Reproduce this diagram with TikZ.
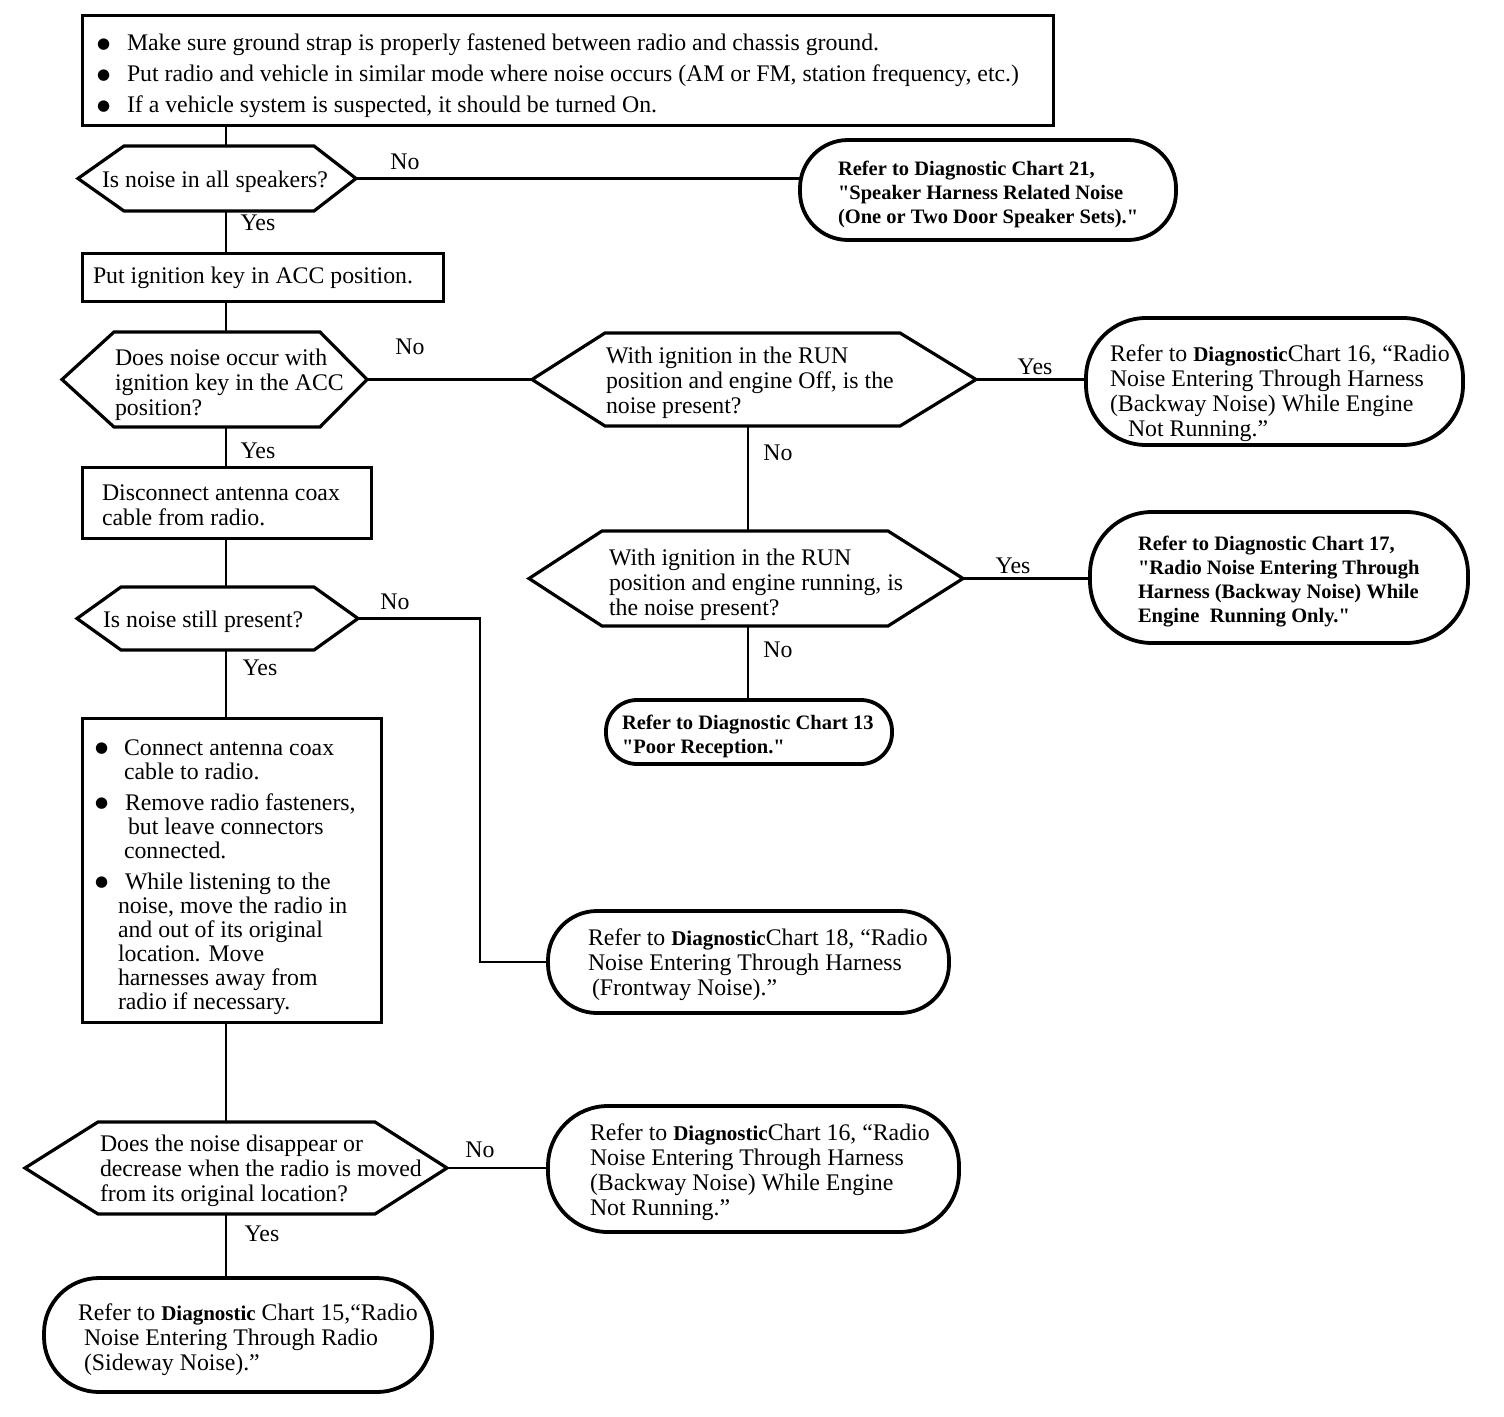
\documentclass[tikz,border=0pt]{standalone}
\usepackage{fontspec}
\setmainfont{Liberation Serif}
\newfontfamily\djv{DejaVu Sans}
\usetikzlibrary{calc}
\font\sqfont="Liberation Serif/B" at 20.5pt
\newcommand{\sq}{{\sqfont "}}
\newcommand{\ntext}[3][0]{\makebox[#2pt][l]{\raisebox{\dimexpr-9.75pt-#1pt\relax}[0pt][0pt]{\begin{tabular}[c]{@{}l@{}}#3\end{tabular}}}}
\newcommand{\bulx}[1]{\makebox[#1pt][l]{\hspace{-1pt}\raisebox{2.5pt}{\djv\fontsize{15}{15}\selectfont ●}}}
\newcommand{\dgx}{{\bfseries\fontsize{21}{25}\selectfont Diagnostic}}
\newcommand{\hexa}[3]{\draw[hexline] (#1.west) -- ([xshift=#2]#1.north west) -- ([xshift=-#3]#1.north east) -- (#1.east) -- ([xshift=-#3]#1.south east) -- ([xshift=#2]#1.south west) -- cycle;}
\tikzset{
  base/.style={inner sep=0pt, outer sep=0pt, font=\fontsize{23.8}{25}\selectfont},
  box/.style={base, draw, line width=3pt, rectangle},
  term/.style={base, draw, line width=3.8pt},
  hexn/.style={base},
  hexline/.style={line width=3.2pt, line join=miter},
  conn/.style={line width=2.2pt},
  lbl/.style={font=\fontsize{23.8}{25}\selectfont, inner sep=0pt},
  boldtxt/.style={font=\bfseries\fontsize{20.5}{24}\selectfont}
}
\begin{document}
\begin{tikzpicture}[x=1pt,y=-1pt]
\fill[white] (0,0) rectangle (1504,1416);
\useasboundingbox (0,0) rectangle (1504,1416);
\coordinate (spine) at (226,0);
\coordinate (rspine) at (748,0);
\coordinate (elbow) at (480,0);

% left column
\node[box, minimum width=971, minimum height=110] (top) at (567.5,70) {\ntext[3]{939}{\bulx{29}Make sure ground strap is properly fastened between radio and chassis ground.\\[6pt]\bulx{29}Put radio and vehicle in similar mode where noise occurs (AM or FM, station frequency, etc.)\\[6pt]\bulx{29}If a vehicle system is suspected, it should be turned On.}};

\node[hexn, minimum width=278, minimum height=65] (d1) at (217,178.5) {\ntext{230}{Is noise in all speakers?}};

\node[box, minimum width=361, minimum height=48] (acc) at (262.5,277) {\ntext[-2]{339}{Put ignition key in ACC position.}};

\node[hexn, minimum width=305, minimum height=95] (d2) at (214.5,379.5) {\ntext[2]{199}{Does noise occur with\\ignition key in the ACC\\position?}};

\node[box, minimum width=289, minimum height=71] (disc) at (226.5,502.5) {\ntext[2]{249}{Disconnect antenna coax\\cable from radio.}};

\node[hexn, minimum width=281, minimum height=63] (d5) at (217.5,618.5) {\ntext{229}{Is noise still present?}};

\node[box, minimum width=299, minimum height=304, font=\fontsize{23.8}{24}\selectfont] (steps) at (231.5,870) {\ntext[4]{271}{\bulx{28}Connect antenna coax\\\hspace{28pt}cable to radio.\\[7pt]\bulx{29}Remove radio fasteners,\\\hspace{32pt}but leave connectors\\\hspace{28pt}connected.\\[7pt]\bulx{29}While listening to the\\\hspace{22pt}noise, move the radio in\\\hspace{22pt}and out of its original\\\hspace{22pt}location. Move\\\hspace{22pt}harnesses away from\\\hspace{22pt}radio if necessary.}};

\node[hexn, minimum width=422, minimum height=92] (d6) at (236,1168) {\ntext{272}{Does the noise disappear or\\decrease when the radio is moved\\from its original location?}};

\node[term, rounded corners=55, minimum width=388, minimum height=114] (t15) at (238,1335) {\ntext[2]{320}{Refer to \dgx\ Chart 15,“Radio\\\hspace{6pt}Noise Entering Through Radio\\\hspace{6pt}(Sideway Noise).”}};

% right side
\node[term, rounded corners=48, minimum width=376, minimum height=100, boldtxt] (t21) at (988,190) {\ntext{300}{Refer to Diagnostic Chart 21,\\\sq Speaker Harness Related Noise\\(One or Two Door Speaker Sets).\sq}};

\node[hexn, minimum width=444, minimum height=93] (d3) at (754,379.5) {\ntext{296}{With ignition in the RUN\\position and engine Off, is the\\noise present?}};

\node[term, rounded corners=60, minimum width=377, minimum height=127] (t16a) at (1274.5,381.5) {\ntext[9]{329}{Refer to \dgx Chart 16, “Radio\\Noise Entering Through Harness\\(Backway Noise) While Engine\\\hspace{18pt}Not Running.”}};

\node[hexn, minimum width=434, minimum height=95] (d4) at (746,578.5) {\ntext[3]{274}{With ignition in the RUN\\position and engine running, is\\the noise present?}};

\node[term, rounded corners=62, minimum width=378, minimum height=131, boldtxt] (t17) at (1279,577.5) {\ntext{282}{Refer to Diagnostic Chart 17,\\\sq Radio Noise Entering Through\\Harness (Backway Noise) While\\Engine\ \ Running Only.\sq}};

\node[term, rounded corners=31, minimum width=286, minimum height=64, boldtxt] (t13) at (749,732) {\ntext{254}{Refer to Diagnostic Chart 13\\\sq Poor Reception.\sq}};

\node[term, rounded corners=49, minimum width=401, minimum height=102] (t18) at (748.5,962) {\ntext{321}{Refer to \dgx Chart 18, “Radio\\Noise Entering Through Harness\\\hspace{4pt}(Frontway Noise).”}};

\node[term, rounded corners=60, minimum width=411, minimum height=126] (t16b) at (753.5,1169) {\ntext{327}{Refer to \dgx Chart 16, “Radio\\Noise Entering Through Harness\\(Backway Noise) While Engine\\Not Running.”}};

% hexagon outlines
\hexa{d1}{46}{42}
\hexa{d2}{52}{47}
\hexa{d3}{73}{76}
\hexa{d4}{73}{75}
\hexa{d5}{44}{44}
\hexa{d6}{73}{72}

% labels
\node[lbl] (l1) at (405,162) {No};
\node[lbl] (l2) at (258,223) {Yes};
\node[lbl] (l3) at (410,347) {No};
\node[lbl] (l4) at (1035,367) {Yes};
\node[lbl] (l5) at (778,453) {No};
\node[lbl] (l6) at (258,451) {Yes};
\node[lbl] (l7) at (1013,566) {Yes};
\node[lbl] (l8) at (778,650) {No};
\node[lbl] (l9) at (395,602) {No};
\node[lbl] (l10) at (260,668) {Yes};
\node[lbl] (l11) at (480,1150) {No};
\node[lbl] (l12) at (262,1234) {Yes};

% connectors
\draw[conn] (top.south -| spine) -- (d1.north -| spine);
\draw[conn] (d1.south -| spine) -- (acc.north -| spine);
\draw[conn] (acc.south -| spine) -- (d2.north -| spine);
\draw[conn] (d2.south -| spine) -- (disc.north -| spine);
\draw[conn] (disc.south -| spine) -- (d5.north -| spine);
\draw[conn] (d5.south -| spine) -- (steps.north -| spine);
\draw[conn] (steps.south -| spine) -- (d6.north -| spine);
\draw[conn] (d6.south -| spine) -- (t15.north -| spine);
\draw[conn] (d1.east) -- (d1.east -| t21.west);
\draw[conn] (d2.east) -- (d3.west);
\draw[conn] (d3.east) -- (d3.east -| t16a.west);
\draw[conn] (d3.south -| rspine) -- (d4.north -| rspine);
\draw[conn] (d4.east) -- (d4.east -| t17.west);
\draw[conn] (d4.south -| rspine) -- (t13.north -| rspine);
\draw[conn] (d5.east) -- (d5.east -| elbow) -- (elbow |- t18.west) -- (t18.west);
\draw[conn] (d6.east) -- (d6.east -| t16b.west);
\end{tikzpicture}
\end{document}
